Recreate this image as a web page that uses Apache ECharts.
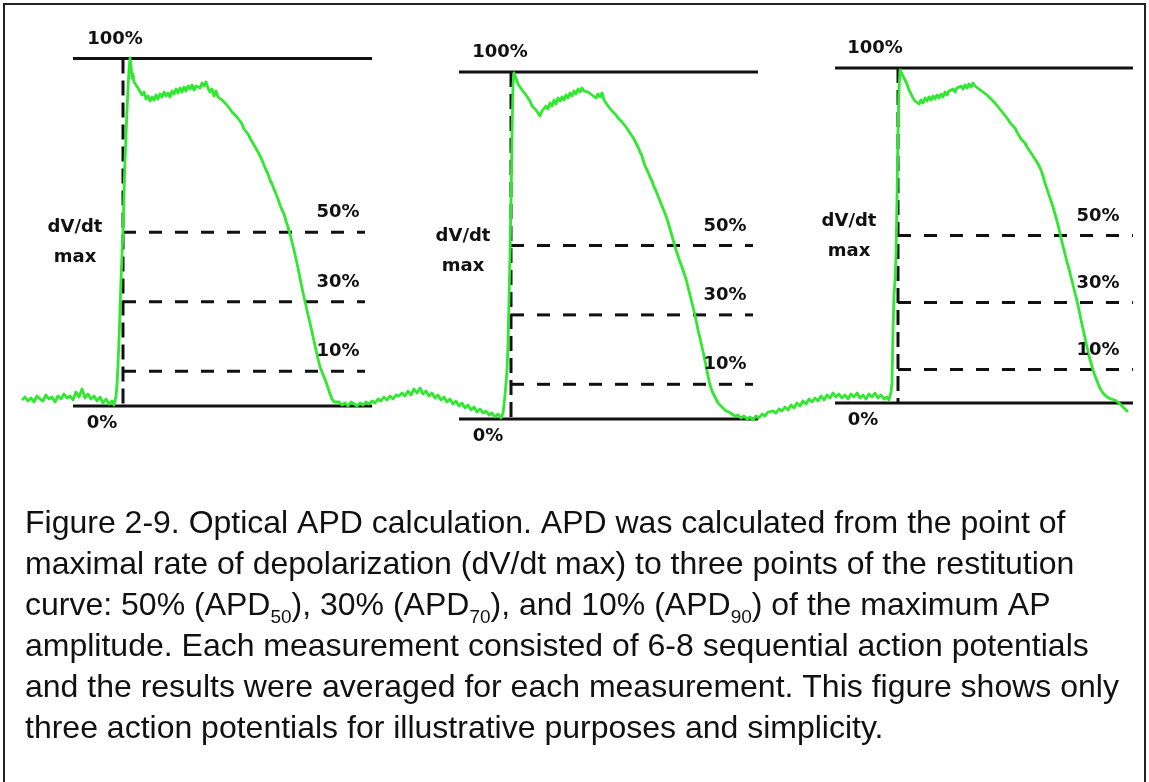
<!DOCTYPE html>
<html><head><meta charset="utf-8">
<script src="https://cdn.jsdelivr.net/npm/echarts/dist/echarts.min.js"></script>
<style>html,body{margin:0;padding:0;background:#fff}#c{width:1149px;height:782px}</style>
</head><body><div id="c"></div>
<script>
// ---- DATA (time in ms, optical signal in a.u.) ----
const ap1Trace = [[2,30],[5,33],[8,29],[11,32],[14,28],[17,34],[20,31],[23,29],[26,35],[29,31],[32,33],[35,28],[38,34],[41,31],[44,36],[47,32],[50,34],[53,30],[56,38],[59,33],[62,41],[65,32],[68,36],[71,31],[74,34],[77,29],[80,33],[83,27],[86,31],[89,26],[92,29],[94,25],[96,34],[97,45],[98,65],[99,90],[100,120],[101,150],[102,175],[103,200],[104,235],[105,270],[106,295],[107,320],[108,342],[109,360],[110,372],[111,364],[112,352],[113,356],[114,348],[116,350],[118,342],[120,344],[122,335],[124,338],[126,331],[128,334],[130,329],[132,333],[134,330],[136,335],[138,331],[140,336],[142,333],[144,338],[146,334],[148,337],[150,333],[152,339],[154,336],[156,341],[158,337],[160,342],[162,338],[164,343],[166,339],[168,344],[170,341],[172,345],[174,340],[176,344],[178,346],[180,342],[182,347],[184,344],[186,348],[188,342],[190,338],[192,341],[194,334],[196,339],[198,333],[200,335],[202,330],[204,332],[206,326],[208,327],[210,321],[212,318],[214,320],[216,314],[218,312],[220,309],[222,306],[224,301],[226,302],[228,296],[230,292],[232,290],[234,285],[236,283],[238,278],[240,274],[242,270],[244,265],[246,260],[248,256],[250,250],[252,246],[254,241],[256,236],[258,231],[260,225],[262,220],[264,216],[266,209],[268,203],[270,196],[272,188],[274,180],[276,171],[278,162],[280,152],[282,142],[284,133],[286,124],[288,115],[290,107],[292,98],[294,89],[296,80],[298,71],[300,63],[302,58],[304,53],[306,48],[308,42],[310,36],[312,31],[314,28],[316,26],[319,28],[322,25],[325,27],[328,24],[331,28],[334,26],[337,24],[340,27],[343,25],[346,28],[349,26],[352,29],[355,27],[358,31],[361,29],[364,33],[367,30],[370,34],[373,31],[376,35]];
const ap2Trace = [[379,34],[382,37],[385,34],[388,39],[391,35],[394,41],[397,37],[400,42],[403,36],[406,39],[409,34],[412,37],[415,32],[418,35],[421,30],[424,33],[427,28],[430,31],[433,26],[436,29],[439,24],[442,27],[445,22],[448,25],[451,20],[454,23],[457,18],[460,21],[463,17],[466,19],[469,15],[472,17],[475,13],[478,16],[481,12],[483,17],[484,25],[485,35],[486,47],[487,60],[488,85],[489,130],[490,175],[491,230],[492,295],[493,345],[494,357],[496,352],[498,346],[500,348],[502,340],[504,342],[506,335],[508,332],[510,329],[512,324],[514,326],[516,320],[518,317],[520,314],[522,319],[524,317],[526,324],[528,321],[530,327],[532,324],[534,330],[536,326],[538,332],[540,329],[542,333],[544,330],[546,335],[548,332],[550,337],[552,334],[554,339],[556,336],[558,341],[560,338],[562,342],[564,339],[566,341],[568,338],[570,340],[572,335],[574,337],[576,332],[578,336],[580,333],[582,337],[584,330],[586,327],[588,324],[590,322],[592,319],[594,317],[596,315],[598,312],[600,311],[602,308],[604,306],[606,303],[608,300],[610,297],[612,294],[614,291],[616,287],[618,283],[620,278],[622,274],[624,267],[626,262],[628,258],[630,253],[632,249],[634,243],[636,239],[638,234],[640,229],[642,224],[644,219],[646,214],[648,208],[650,201],[652,194],[654,187],[656,180],[658,174],[660,168],[662,163],[664,157],[666,151],[668,143],[670,135],[672,127],[674,119],[676,110],[678,100],[680,92],[682,83],[684,74],[686,64],[688,54],[690,45],[692,39],[694,35],[696,31],[698,27],[700,25],[703,22],[706,19],[709,18],[712,16],[715,14],[718,15],[721,12],[724,14],[727,11],[730,13],[733,10],[736,14],[739,12],[742,16],[745,14],[748,18],[750,16]];
const ap3Trace = [[753,19],[756,17],[759,21],[762,19],[765,23],[768,20],[771,25],[774,22],[777,27],[780,24],[783,29],[786,26],[789,31],[792,28],[795,32],[798,29],[801,34],[804,30],[807,35],[810,32],[813,37],[816,33],[819,36],[822,32],[825,35],[828,31],[831,36],[834,33],[837,37],[840,32],[843,35],[846,31],[849,36],[852,33],[855,37],[858,32],[861,35],[864,31],[867,33],[869,30],[871,38],[872,47],[873,100],[874,135],[875,150],[876,175],[877,230],[878,300],[879,340],[880,360],[881,362],[883,354],[885,350],[887,346],[889,340],[891,336],[893,332],[895,329],[897,331],[899,326],[901,330],[903,327],[905,332],[907,329],[909,333],[911,330],[913,334],[915,331],[917,335],[919,332],[921,336],[923,333],[925,338],[927,335],[929,339],[931,337],[933,341],[935,338],[937,342],[939,340],[941,344],[943,341],[945,345],[947,342],[949,346],[951,343],[953,347],[955,344],[957,345],[959,341],[961,342],[963,338],[965,339],[967,335],[969,334],[971,331],[973,329],[975,327],[977,325],[979,322],[981,321],[983,317],[985,315],[987,312],[989,311],[991,306],[993,304],[995,302],[997,298],[999,296],[1001,291],[1003,289],[1005,287],[1007,283],[1009,280],[1011,277],[1013,274],[1015,272],[1017,268],[1019,264],[1021,260],[1023,254],[1025,247],[1027,241],[1029,235],[1031,229],[1033,223],[1035,216],[1037,209],[1039,201],[1041,192],[1043,184],[1045,176],[1047,168],[1049,161],[1051,153],[1053,145],[1055,137],[1057,129],[1059,120],[1061,110],[1063,101],[1065,92],[1067,83],[1069,74],[1071,67],[1073,60],[1075,54],[1077,49],[1079,44],[1081,40],[1083,37],[1085,35],[1087,33],[1089,32],[1091,31],[1093,29],[1095,30],[1097,28],[1099,27],[1101,25],[1103,23],[1105,21],[1107,19],[1108,20]];
const apBaseline = [24, 11, 27];        // 0% level of each AP
const apPeak = [371.5, 358, 362];       // 100% level of each AP
const dvdtMaxTime = [103, 491, 878];    // time of dV/dt max
const apdLevels = [50, 30, 10];         // % of amplitude
const levelLabels = ['50%', '30%', '10%'];
const topLabel = '100%';
const zeroLabel = '0%';
const dvdtLabel = 'dV/dt\nmax';

// ---- LAYOUT (time/value anchors for reference lines and annotations) ----
const refLineStart = [53, 439, 815];
const refLineEnd = [352, 738, 1113];
const dashEnd = [345, 733, 1113];
const pctLabelT = [318, 705, 1078];
const topLabelT = [95, 480, 855];
const zeroLabelT = [82, 468, 843];
const dvdtLabelT = [55, 443, 829];
const dvdtLabelV = [188, 179, 194];

const captionLines = [
  'Figure 2-9. Optical APD calculation. APD was calculated from the point of',
  'maximal rate of depolarization (dV/dt max) to three points of the restitution',
  'curve: 50% (APD{s|50}), 30% (APD{s|70}), and 10% (APD{s|90}) of the maximum AP',
  'amplitude. Each measurement consisted of 6-8 sequential action potentials',
  'and the results were averaged for each measurement. This figure shows only',
  'three action potentials for illustrative purposes and simplicity.'
];

const ink = '#111111';
const labelFont = {fontFamily: 'DejaVu Sans', fontWeight: 'bold', fontSize: 18, color: ink, opacity: 1};
const series = [];
const base = {type: 'line', symbol: 'none', showSymbol: false, clip: false, silent: true, animation: false};

for (let i = 0; i < 3; i++) {
  const b = apBaseline[i], p = apPeak[i], amp = p - b;
  [p, b].forEach(v => series.push(Object.assign({}, base, {
    data: [[refLineStart[i], v], [refLineEnd[i], v]],
    lineStyle: {color: ink, width: 3, type: 'solid'}, z: 2
  })));
  series.push(Object.assign({}, base, {
    data: [[dvdtMaxTime[i], p], [dvdtMaxTime[i], b]],
    lineStyle: {color: ink, width: 3, type: [15, 7]}, z: 2
  }));
  apdLevels.forEach(l => {
    const v = b + amp * l / 100;
    series.push(Object.assign({}, base, {
      data: [[dvdtMaxTime[i], v], [dashEnd[i], v]],
      lineStyle: {color: ink, width: 3, type: [13, 13]}, z: 2
    }));
  });
}

series.push(Object.assign({}, base, {
  data: ap1Trace.concat(ap2Trace, ap3Trace),
  lineStyle: {color: '#2fe82f', width: 2.8, join: 'round'}, z: 3
}));

const labelData = [];
for (let i = 0; i < 3; i++) {
  const b = apBaseline[i], p = apPeak[i], amp = p - b;
  labelData.push({name: topLabel, value: [topLabelT[i], p], label: {position: 'top', distance: 10}});
  labelData.push({name: zeroLabel, value: [zeroLabelT[i], b], label: {position: 'bottom', distance: 8}});
  apdLevels.forEach((l, k) => labelData.push({name: levelLabels[k], value: [pctLabelT[i], b + amp * l / 100], label: {position: 'top', distance: 10}}));
  labelData.push({name: dvdtLabel, value: [dvdtLabelT[i], dvdtLabelV[i]], label: {position: 'inside', lineHeight: 30}});
}
series.push({
  type: 'scatter', symbolSize: 1, itemStyle: {color: 'rgba(0,0,0,0)', opacity: 1}, clip: false, silent: true, animation: false, z: 4,
  data: labelData,
  label: Object.assign({show: true, formatter: d => d.name, align: 'center', textBorderWidth: 0}, labelFont)
});

const chart = echarts.init(document.getElementById('c'), null, {renderer: 'canvas'});
chart.setOption({
  backgroundColor: '#ffffff',
  animation: false,
  title: {
    text: captionLines.join('\n'),
    left: 25, top: 504, padding: 0,
    textStyle: {
      fontFamily: 'Liberation Sans', fontWeight: 'normal', fontSize: 32, lineHeight: 41, color: '#111',
      rich: {s: {fontFamily: 'Liberation Sans', fontSize: 19, lineHeight: 30, verticalAlign: 'bottom', color: '#111'}}
    }
  },
  grid: {left: 20, top: 30, width: 1115, height: 400},
  xAxis: {type: 'value', min: 0, max: 1115, show: false},
  yAxis: {type: 'value', min: 0, max: 400, show: false},
  graphic: [{type: 'rect', shape: {x: 4, y: 4, width: 1141, height: 800}, style: {fill: 'none', stroke: '#222', lineWidth: 2}, silent: true, z: 100}],
  series: series
});
</script></body></html>
